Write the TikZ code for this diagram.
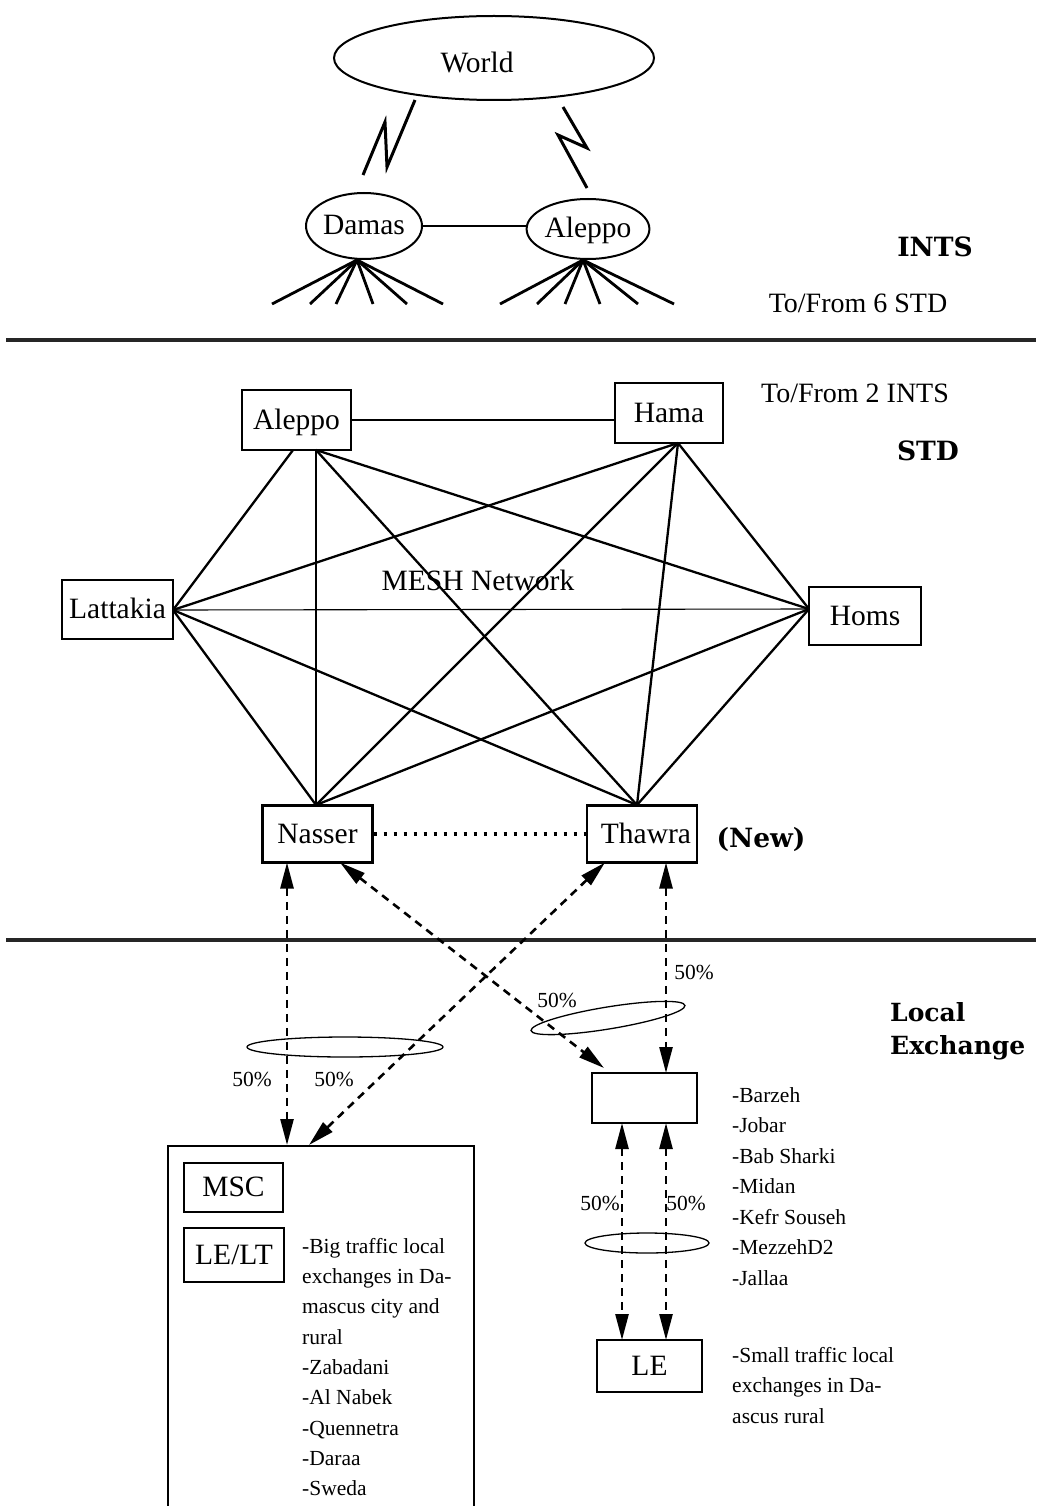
\documentclass[tikz,border=0pt]{standalone}
\usepackage{fontspec}
\setmainfont{Liberation Serif}
\newfontfamily\hdfont{DejaVu Serif}
\usetikzlibrary{shapes.geometric,arrows.meta}
\begin{document}
\begin{tikzpicture}[x=1pt,y=-1pt,
  lblfont/.style={font=\fontsize{29.5}{34}\selectfont, text height=20pt, text depth=2pt},
  boxn/.style={draw, line width=2.2pt, inner sep=0pt, lblfont},
  ell/.style={draw, ellipse, line width=2pt, inner sep=0pt, lblfont},
  ring/.style={draw, ellipse, line width=1.3pt, inner sep=0pt},
  meshl/.style={line width=2.3pt},
  thinl/.style={line width=1.1pt},
  bolt/.style={line width=3pt, line join=miter},
  fan/.style={line width=2.8pt},
  sepline/.style={line width=4.5pt, black!85},
  darr/.style={line width=2.6pt, dash pattern=on 8pt off 6pt,
    {Triangle[width=13pt,length=26pt]}-{Triangle[width=13pt,length=26pt]}},
  dotl/.style={line width=3.2pt, dash pattern=on 3.5pt off 6.5pt},
  sm/.style={font=\fontsize{21.5}{25}\selectfont, inner sep=0pt, text height=14.7pt, text depth=0pt},
  txt/.style={font=\fontsize{28}{32}\selectfont, inner sep=0pt, text height=19pt, text depth=0pt},
  hd/.style={font=\hdfont\bfseries\fontsize{26.5}{30}\selectfont, inner sep=0pt, text height=19pt, text depth=0pt},
  hdb/.style={font=\hdfont\bfseries\fontsize{25}{30}\selectfont, inner sep=0pt, text height=18pt, text depth=0pt}
]
\clip (0,0) rectangle (1042,1506);
\fill[white] (0,0) rectangle (1042,1506);

% ---------------- INTS level ----------------
\node[ell, minimum width=320pt, minimum height=84pt] (World) at (494,58) {};
\node[lblfont, inner sep=0pt] (worldtxt) at (477,64) {World};
\node[ell, minimum width=116pt, minimum height=66pt] (Damas) at (364,226) {Damas};
\node[ell, minimum width=118pt, minimum height=60pt] (AleppoI) at (588,229) {Aleppo};
\draw[thinl] (Damas.east) -- (Damas.east -| AleppoI.west);

\coordinate (bA1) at (415,100); \coordinate (bA2) at (387,167);
\coordinate (bA3) at (385,122); \coordinate (bA4) at (363,175);
\draw[bolt] (bA1) -- (bA2) -- (bA3) -- (bA4);
\coordinate (bB1) at (563,107); \coordinate (bB2) at (587,148);
\coordinate (bB3) at (558,135); \coordinate (bB4) at (587,188);
\draw[bolt] (bB1) -- (bB2) -- (bB3) -- (bB4);

\coordinate (dA) at (357,260);
\foreach \x [count=\i] in {272,310,336,373,407,443}{
  \coordinate (dF\i) at (\x,304);
  \draw[fan] (dA) -- (dF\i);
}
\coordinate (aA) at (583,260);
\foreach \x [count=\i] in {500,537,565,600,638,674}{
  \coordinate (aF\i) at (\x,304);
  \draw[fan] (aA) -- (aF\i);
}

\node[hd] (ints) at (935,247) {INTS};
\node[txt] (tf6) at (858,303) {To/From 6 STD};

\coordinate (s1L) at (6,340); \coordinate (s1R) at (1036,340);
\draw[sepline] (s1L) -- (s1R);

% ---------------- STD level ----------------
\node[txt] (tf2) at (855,393) {To/From 2 INTS};
\node[hd] (std) at (928,451) {STD};

\node[boxn, minimum width=109pt, minimum height=60pt] (AleppoS) at (296.5,420) {Aleppo};
\node[boxn, minimum width=108pt, minimum height=60pt] (Hama) at (669,413) {Hama};
\node[boxn, minimum width=111pt, minimum height=59pt] (Lattakia) at (117.5,609.5) {Lattakia};
\node[boxn, minimum width=112pt, minimum height=58pt] (Homs) at (865,616) {Homs};
\node[boxn, minimum width=110pt, minimum height=57pt] (Nasser) at (317.5,834) {Nasser};
\node[boxn, minimum width=110pt, minimum height=57pt] (Thawra) at (642,834) {\hspace*{8pt}Thawra};
\node[hd] (new) at (761,838) {(New)};

\coordinate (alL) at (293,450); \coordinate (alH) at (316,450);
\coordinate (haH) at (678,443);
\coordinate (laH) at (173,610);
\coordinate (hoH) at (809,609);
\coordinate (naH) at (316,805);
\coordinate (thH) at (637,805);

\draw[thinl] (AleppoS.east) -- (AleppoS.east -| Hama.west);
\draw[thinl] (laH) -- (hoH);
\draw[meshl] (alL) -- (laH);
\draw[meshl] (alH) -- (naH);
\draw[meshl] (alH) -- (thH);
\draw[meshl] (alH) -- (hoH);
\draw[meshl] (haH) -- (laH);
\draw[meshl] (haH) -- (naH);
\draw[meshl] (haH) -- (thH);
\draw[meshl] (haH) -- (hoH);
\draw[meshl] (laH) -- (naH);
\draw[meshl] (laH) -- (thH);
\draw[meshl] (hoH) -- (naH);
\draw[meshl] (hoH) -- (thH);
\draw[dotl] (Nasser.east) -- (Thawra.west);

\node[lblfont, inner sep=0pt] (mesh) at (478,581) {MESH Network};

\coordinate (s2L) at (6,940); \coordinate (s2R) at (1036,940);
\draw[sepline] (s2L) -- (s2R);

% ---------------- Local exchange level ----------------
\node[hdb, anchor=west] (loc1) at (890,1012) {Local};
\node[hdb, anchor=west] (loc2) at (890,1045) {Exchange};

\node[draw, line width=2.2pt, minimum width=306pt, minimum height=400pt, anchor=north, inner sep=0pt] (big) at (321,1145) {};
\node[boxn, minimum width=99pt, minimum height=49pt] (MSC) at (233.5,1187.5) {MSC};
\node[boxn, minimum width=100pt, minimum height=54pt] (LELT) at (234,1255) {LE/LT};

\node[boxn, minimum width=105pt, minimum height=50pt] (ux) at (644.5,1098) {};
\node[boxn, minimum width=105pt, minimum height=52pt] (LE) at (649.5,1366) {LE};

\coordinate (n1) at (287,862.5); \coordinate (b1) at (287,1145);
\coordinate (n2) at (340,862.5); \coordinate (u2) at (604,1068);
\coordinate (t3) at (605,862.5); \coordinate (b3) at (309,1145);
\coordinate (t4) at (666,862.5); \coordinate (u4) at (666,1073);
\coordinate (u5) at (622,1123); \coordinate (l5) at (622,1340);
\coordinate (u6) at (666,1123); \coordinate (l6) at (666,1340);
\draw[darr] (n1) -- (b1);
\draw[darr] (n2) -- (u2);
\draw[darr] (t3) -- (b3);
\draw[darr] (t4) -- (u4);
\draw[darr] (u5) -- (l5);
\draw[darr] (u6) -- (l6);

\node[ring, minimum width=196pt, minimum height=20pt] (r1) at (345,1047) {};
\node[ring, minimum width=156pt, minimum height=22pt, rotate=9.3] (r2) at (608,1018) {};
\node[ring, minimum width=124pt, minimum height=20pt] (r3) at (647,1243) {};

\node[sm] (p1) at (252,1079) {50\%};
\node[sm] (p2) at (334,1079) {50\%};
\node[sm] (p3) at (694,972) {50\%};
\node[sm] (p4) at (557,1000) {50\%};
\node[sm] (p5) at (600,1203) {50\%};
\node[sm] (p6) at (686,1203) {50\%};

\foreach \t [count=\i] in {-Barzeh,-Jobar,-Bab Sharki,-Midan,-Kefr Souseh,-MezzehD2,-Jallaa}{
  \node[sm, anchor=west] (rl\i) at (732,{1095+(\i-1)*30.5}) {\t};
}
\foreach \t [count=\i] in {-Small traffic local,exchanges in Da-,ascus rural}{
  \node[sm, anchor=west] (sl\i) at (732,{1355+(\i-1)*30.5}) {\t};
}
\foreach \t [count=\i] in {-Big traffic local,exchanges in Da-,mascus city and,rural,-Zabadani,-Al Nabek,-Quennetra,-Daraa,-Sweda}{
  \node[sm, anchor=west] (bl\i) at (302,{1246+(\i-1)*30.3}) {\t};
}
\end{tikzpicture}
\end{document}
